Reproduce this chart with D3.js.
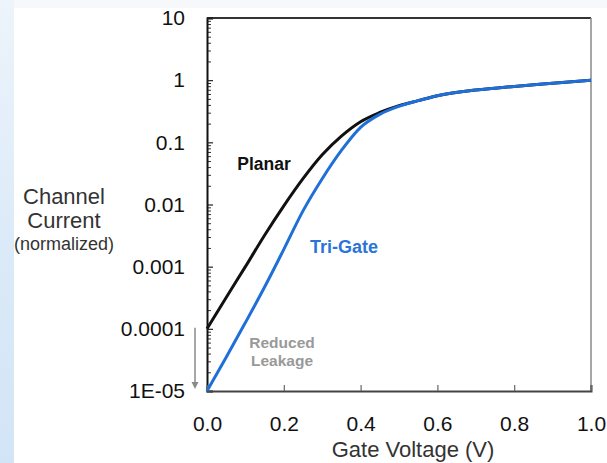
<!DOCTYPE html>
<html>
<head>
<meta charset="utf-8">
<script src="https://cdn.jsdelivr.net/npm/d3@7"></script>
<style>
  html, body { margin: 0; padding: 0; background: #ffffff; }
  svg { display: block; }
  text { font-family: "Liberation Sans", Arial, sans-serif; }
</style>
</head>
<body>
<script>
// ---- data ----
const gateVoltage = [0, 0.05, 0.1, 0.15, 0.2, 0.25, 0.3, 0.35, 0.4, 0.45, 0.5, 0.55, 0.6, 0.7, 0.8, 0.9, 1.0];
const planarCurrent = [1.0e-4, 3.2e-4, 1.0e-3, 3.2e-3, 9.5e-3, 2.6e-2, 6.3e-2, 0.126, 0.215, 0.302, 0.389, 0.468, 0.562, 0.692, 0.794, 0.891, 1.0];
const triGateCurrent = [1.0e-5, 3.5e-5, 1.26e-4, 4.7e-4, 1.9e-3, 7.9e-3, 2.6e-2, 7.4e-2, 0.174, 0.282, 0.380, 0.468, 0.562, 0.692, 0.794, 0.891, 1.0];
const yTickValues = [1e-5, 1e-4, 1e-3, 1e-2, 1e-1, 1, 10];
const yTickLabels = ["1E-05", "0.0001", "0.001", "0.01", "0.1", "1", "10"];
const xTickValues = [0, 0.2, 0.4, 0.6, 0.8, 1.0];
const xTickLabels = ["0.0", "0.2", "0.4", "0.6", "0.8", "1.0"];

const W = 607, H = 463;
const L = 207, R = 591, T = 18, B = 391;

const svg = d3.select("body").append("svg").attr("width", W).attr("height", H);

// background
const defs = svg.append("defs");
const g1 = defs.append("linearGradient").attr("id", "bgL").attr("x1", 0).attr("y1", 0).attr("x2", 0).attr("y2", 1);
g1.append("stop").attr("offset", "0%").attr("stop-color", "#edf4fb");
g1.append("stop").attr("offset", "60%").attr("stop-color", "#d9e9f8");
g1.append("stop").attr("offset", "100%").attr("stop-color", "#d2e5f6");
svg.append("rect").attr("x", 0).attr("y", 0).attr("width", W).attr("height", H).attr("fill", "#ffffff");
svg.append("rect").attr("x", 0).attr("y", 0).attr("width", W).attr("height", 8).attr("fill", "#f6f8fb");
svg.append("rect").attr("x", 0).attr("y", 0).attr("width", 14).attr("height", H).attr("fill", "url(#bgL)");

const x = d3.scaleLinear().domain([0, 1]).range([L, R]);
const y = d3.scaleLog().domain([1e-5, 10]).range([B, T]);

// frame top/right
svg.append("line").attr("x1", L).attr("x2", R).attr("y1", T).attr("y2", T).attr("stroke", "#333").attr("stroke-width", 2);
svg.append("line").attr("x1", R).attr("x2", R).attr("y1", T).attr("y2", B).attr("stroke", "#888").attr("stroke-width", 1.5);

// minor y ticks
const minor = [];
yTickValues.slice(0, -1).forEach(d => { for (let k = 2; k <= 9; k++) minor.push(d * k); });
svg.append("g").attr("transform", `translate(${L},0)`)
  .call(d3.axisLeft(y).tickValues(minor).tickSize(-4).tickFormat(""))
  .call(g => g.select(".domain").remove())
  .call(g => g.selectAll("line").attr("stroke", "#333").attr("stroke-width", 1));

// major y axis
svg.append("g").attr("transform", `translate(${L},0)`)
  .call(d3.axisLeft(y).tickValues(yTickValues).tickSize(-6).tickPadding(22)
    .tickFormat((d, i) => yTickLabels[i]))
  .call(g => g.select(".domain").attr("stroke", "#111").attr("stroke-width", 2))
  .call(g => g.selectAll("line").attr("stroke", "#222").attr("stroke-width", 1.2))
  .call(g => g.selectAll("text").attr("font-size", 21).attr("fill", "#111")
    .attr("font-family", "'Liberation Sans', Arial, sans-serif"));

// x axis
svg.append("g").attr("transform", `translate(0,${B})`)
  .call(d3.axisBottom(x).tickValues(xTickValues).tickSize(-6).tickPadding(25)
    .tickFormat((d, i) => xTickLabels[i]))
  .call(g => g.select(".domain").attr("stroke", "#444").attr("stroke-width", 2))
  .call(g => g.selectAll("line").attr("stroke", "#666").attr("stroke-width", 1.2))
  .call(g => g.selectAll("text").attr("font-size", 21).attr("fill", "#111")
    .attr("font-family", "'Liberation Sans', Arial, sans-serif"));

// curves
const planar = gateVoltage.map((v, i) => [v, planarCurrent[i]]);
const triGate = gateVoltage.map((v, i) => [v, triGateCurrent[i]]);
const line = d3.line().x(d => x(d[0])).y(d => y(d[1])).curve(d3.curveMonotoneX);
svg.append("path").datum(planar).attr("d", line).attr("fill", "none")
  .attr("stroke", "#111").attr("stroke-width", 3);
svg.append("path").datum(triGate).attr("d", line).attr("fill", "none")
  .attr("stroke", "#1f6fd8").attr("stroke-width", 3);

// labels
svg.append("text").attr("x", 264).attr("y", 170).attr("text-anchor", "middle")
  .attr("font-size", 17.5).attr("font-weight", "bold").attr("fill", "#111").text("Planar");
svg.append("text").attr("x", 344).attr("y", 253).attr("text-anchor", "middle")
  .attr("font-size", 18).attr("font-weight", "bold").attr("fill", "#2a74d9").text("Tri-Gate");
svg.append("text").attr("x", 282).attr("y", 348).attr("text-anchor", "middle")
  .attr("font-size", 15.5).attr("font-weight", "bold").attr("fill", "#999").text("Reduced");
svg.append("text").attr("x", 282).attr("y", 366).attr("text-anchor", "middle")
  .attr("font-size", 15.5).attr("font-weight", "bold").attr("fill", "#999").text("Leakage");

// axis titles
svg.append("text").attr("x", 64).attr("y", 204).attr("text-anchor", "middle")
  .attr("font-size", 22).attr("fill", "#333").text("Channel");
svg.append("text").attr("x", 64).attr("y", 228).attr("text-anchor", "middle")
  .attr("font-size", 22).attr("fill", "#333").text("Current");
svg.append("text").attr("x", 64).attr("y", 250).attr("text-anchor", "middle")
  .attr("font-size", 18).attr("fill", "#333").text("(normalized)");
svg.append("text").attr("x", 413).attr("y", 457).attr("text-anchor", "middle")
  .attr("font-size", 22).attr("fill", "#333").text("Gate Voltage (V)");

// reduced-leakage arrow
const ax = 195, ay1 = y(1e-4) - 1, ay2 = y(1e-5) - 2;
svg.append("line").attr("x1", ax).attr("x2", ax).attr("y1", ay1).attr("y2", ay2 - 3)
  .attr("stroke", "#8a8a8a").attr("stroke-width", 1.5);
svg.append("path").attr("d", `M${ax - 3.5},${ay2 - 7} L${ax},${ay2} L${ax + 3.5},${ay2 - 7} Z`)
  .attr("fill", "#8a8a8a");
</script>
</body>
</html>
